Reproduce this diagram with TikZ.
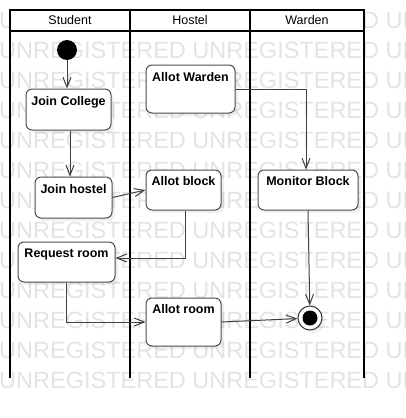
\documentclass[tikz,border=0pt]{standalone}
\usepackage{fontspec}
\setmainfont{Liberation Sans}
\usetikzlibrary{arrows.meta, positioning, shadows}

\begin{document}
\begin{tikzpicture}[x=1pt,y=-1pt,
  lane/.style={line width=1.7pt},
  head/.style={font=\fontsize{12.5}{14}\selectfont},
  activity/.style={draw=black!70,line width=1pt,rounded corners=6pt,fill=white,inner sep=0pt,
    drop shadow={shadow xshift=3pt,shadow yshift=-3pt,opacity=0.12}},
  actlabel/.style={inner sep=0pt,font=\bfseries\fontsize{12.5}{14}\selectfont},
  flow/.style={draw=black!75,line width=1pt,-{Straight Barb[length=10pt,width=8pt]}},
  watermark/.style={inner sep=0pt,text=black!11,font=\fontsize{23.5}{26}\selectfont}
]
  \useasboundingbox (0,0) rectangle (405,418);

  % Watermark
  \begin{scope}
    \clip (0,0) rectangle (405,418);
    \foreach \r in {0,...,12}
      \node[watermark,anchor=base west] (wm\r) at (-1,28+30*\r) {UNREGISTERED UNREGISTERED UNREGISTERED};
  \end{scope}

  % Lanes
  \draw[lane,fill=white] (10,10) rectangle (364,31);
  \draw[lane] (10,10) -- (10,378);
  \draw[lane] (130,10) -- (130,378);
  \draw[lane] (250,10) -- (250,378);
  \draw[lane] (364,10) -- (364,378);
  \node[head] (h-student) at (70,20.5) {Student};
  \node[head] (h-hostel) at (190,20.5) {Hostel};
  \node[head] (h-warden) at (307,20.5) {Warden};

  % Start and end
  \node[circle,fill=black,minimum size=20pt,inner sep=0pt] (start) at (67,50) {};
  \node[circle,draw=black!80,line width=1pt,fill=white,minimum size=24pt,inner sep=0pt,
    drop shadow={shadow xshift=3pt,shadow yshift=-3pt,opacity=0.12}] (end) at (310,318) {};
  \node[circle,fill=black,minimum size=15pt,inner sep=0pt] (end-dot) at (end) {};

  % Student
  \node[activity,minimum width=85pt,minimum height=41pt] (jc) at (68.5,109.5) {};
  \node[actlabel,below=7.5pt of jc.north] (jc-txt) {Join College};
  \node[activity,minimum width=77pt,minimum height=41pt] (jh) at (73.5,197.5) {};
  \node[actlabel,below=7.5pt of jh.north] (jh-txt) {Join hostel};
  \node[activity,minimum width=97pt,minimum height=40pt] (rr) at (66.5,262) {};
  \node[actlabel,below=7pt of rr.north] (rr-txt) {Request room};

  % Hostel
  \node[activity,minimum width=89pt,minimum height=48pt] (aw) at (190.5,89) {};
  \node[actlabel,below=7.5pt of aw.north] (aw-txt) {Allot Warden};
  \node[activity,minimum width=75pt,minimum height=40pt] (ab) at (183.5,190) {};
  \node[actlabel,below=7pt of ab.north] (ab-txt) {Allot block};
  \node[activity,minimum width=75pt,minimum height=48pt] (ar) at (183.5,322) {};
  \node[actlabel,below=7pt of ar.north] (ar-txt) {Allot room};

  % Warden
  \node[activity,minimum width=100pt,minimum height=40pt] (mb) at (308,190) {};
  \node[actlabel,below=7pt of mb.north] (mb-txt) {Monitor Block};

  % Flows
  \draw[flow] (start.south) -- (start.south |- jc.north);
  \draw[flow] ([xshift=1.5pt]jc.south) -- ([xshift=1.5pt]jc.south |- jh.north);
  \draw[flow] (jh.east) -- (ab.west);
  \draw[flow] ([xshift=1.5pt]ab.south) |- ([yshift=4pt]rr.east);
  \draw[flow] (rr.south) |- (ar.west);
  \draw[flow] (ar.east) -- (end);
  \draw[flow] (aw.east) -| ([xshift=-2pt]mb.north);
  \draw[flow] (mb.south) -- (end);
\end{tikzpicture}
\end{document}
